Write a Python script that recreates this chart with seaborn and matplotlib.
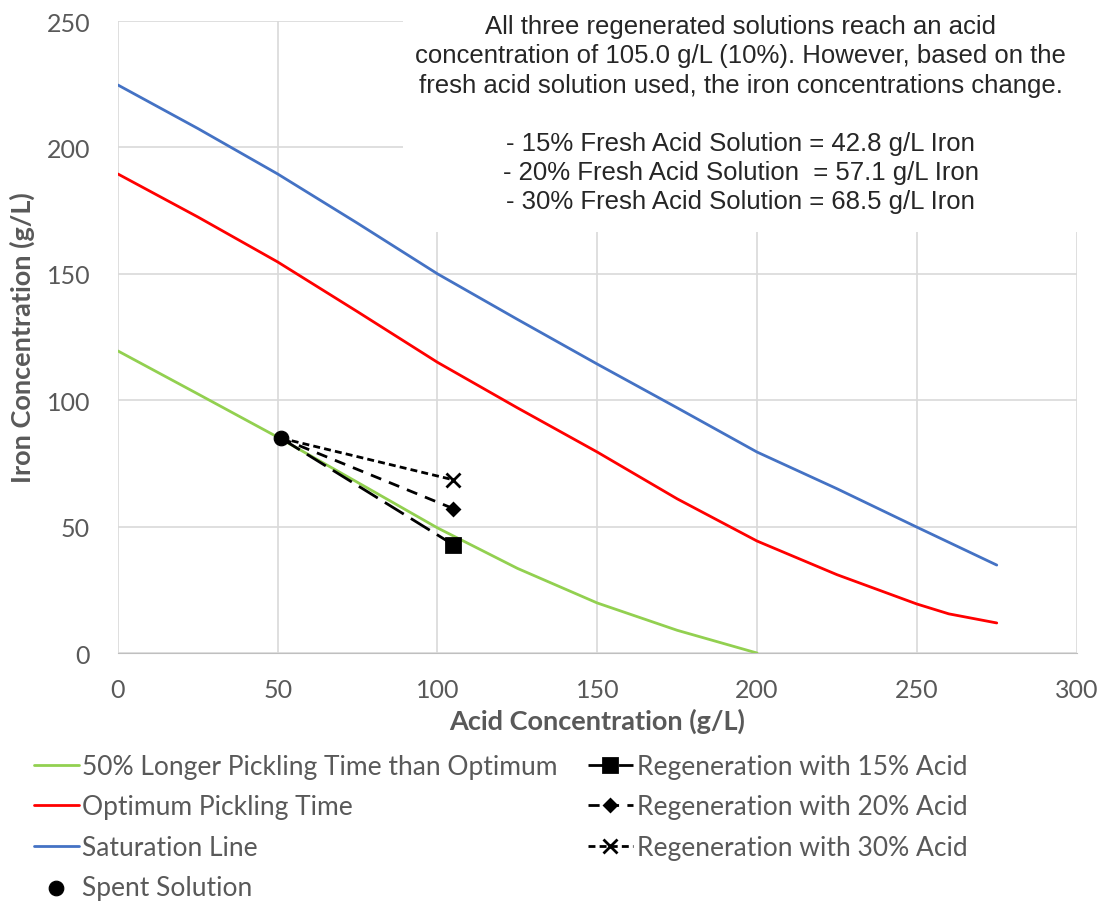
import matplotlib.pyplot as plt
import matplotlib.patches as mpatches
import seaborn as sns

# curvas
acid_green = [0, 25, 50, 75, 100, 125, 150, 175, 200]
iron_green = [119.5, 102.5, 85.4, 67.5, 49.5, 33.5, 19.8, 9, 0]

acid_red = [0, 25, 50, 75, 100, 125, 150, 175, 200, 225, 250, 260, 275]
iron_red = [189.5, 172.5, 154.7, 135, 115, 97, 79.5, 61, 44.3, 31, 19.4, 15.5, 11.9]

acid_blue = [0, 25, 50, 75, 100, 125, 150, 175, 200, 225, 250, 275]
iron_blue = [224.7, 207.5, 189.5, 170, 150, 132, 114.3, 97, 79.5, 65, 49.8, 34.8]

spent_acid = 51
spent_iron = 85
regen_acid = 105
regen_iron = [42.8, 57.1, 68.5]
regen_labels = ['Regeneration with 15% Acid', 'Regeneration with 20% Acid',
                'Regeneration with 30% Acid']

sns.set_style("white")
plt.rcParams['font.family'] = ['Lato', 'DejaVu Sans']

fig = plt.figure(figsize=(11.02, 9.03), dpi=100)
ax = fig.add_axes([0.107, 0.2757, 0.870, 0.6999])

gris = '#595959'

sns.lineplot(x=acid_green, y=iron_green, ax=ax, color='#92d050', lw=2,
             label='50% Longer Pickling Time than Optimum')
sns.lineplot(x=acid_red, y=iron_red, ax=ax, color='#ff0000', lw=2,
             label='Optimum Pickling Time')
sns.lineplot(x=acid_blue, y=iron_blue, ax=ax, color='#4472c4', lw=2,
             label='Saturation Line')

estilos = [((0, (8, 3)), 's', 10), ((0, (4, 3)), 'D', 6.5), ((0, (2.5, 1.5)), 'x', 10)]
for fe, lab, (ls, mk, ms) in zip(regen_iron, regen_labels, estilos):
    ax.plot([spent_acid, regen_acid], [spent_iron, fe], color='black', lw=2,
            linestyle=ls, label=lab, marker=mk, markersize=ms, markevery=[1],
            markeredgewidth=2)

sns.scatterplot(x=[spent_acid], y=[spent_iron], ax=ax, color='black', s=110,
                zorder=5, label='Spent Solution', edgecolor='black')

ax.set_xlim(0, 300)
ax.set_ylim(0, 250)
ax.set_xticks(range(0, 301, 50))
ax.set_yticks(range(0, 251, 50))
ax.grid(True, color='#d9d9d9', lw=1.2)
ax.set_axisbelow(True)
for s in ['top', 'right', 'left']:
    ax.spines[s].set_visible(False)
ax.spines['bottom'].set_color('#bfbfbf')
ax.tick_params(length=0, labelsize=18, labelcolor=gris)
ax.tick_params(axis='x', pad=18)
ax.tick_params(axis='y', pad=20)
ax.set_xlabel('Acid Concentration (g/L)', fontsize=19.5, fontweight='bold', color=gris, labelpad=5)
ax.set_ylabel('Iron Concentration (g/L)', fontsize=19.5, fontweight='bold', color=gris, labelpad=8)

handles, labels = ax.get_legend_handles_labels()
orden = [0, 1, 2, 6, 3, 4, 5]
handles = [handles[i] for i in orden]
labels = [labels[i] for i in orden]
fig.legend(handles, labels, loc='upper left', bbox_to_anchor=(0.009, 0.19), ncol=2,
           frameon=False, fontsize=19, labelcolor=gris, handlelength=1.7,
           handletextpad=0.15, columnspacing=1.13, labelspacing=0.58)
ax.get_legend().remove()

# recuadro blanco detras del texto
ax.add_patch(mpatches.Rectangle((0.297, 0.666), 0.71, 0.36, transform=ax.transAxes,
                                facecolor='white', edgecolor='none', zorder=1.5,
                                clip_on=False))

texto = ('All three regenerated solutions reach an acid\n'
         'concentration of 105.0 g/L (10%). However, based on the\n'
         'fresh acid solution used, the iron concentrations change.\n\n'
         '- 15% Fresh Acid Solution = 42.8 g/L Iron\n'
         '- 20% Fresh Acid Solution  = 57.1 g/L Iron\n'
         '- 30% Fresh Acid Solution = 68.5 g/L Iron')
fig.text(0.672, 0.983, texto, ha='center', va='top', fontsize=18.5,
         family=['Liberation Sans', 'DejaVu Sans'], linespacing=1.27)

fig.savefig('out.png', dpi=100)
